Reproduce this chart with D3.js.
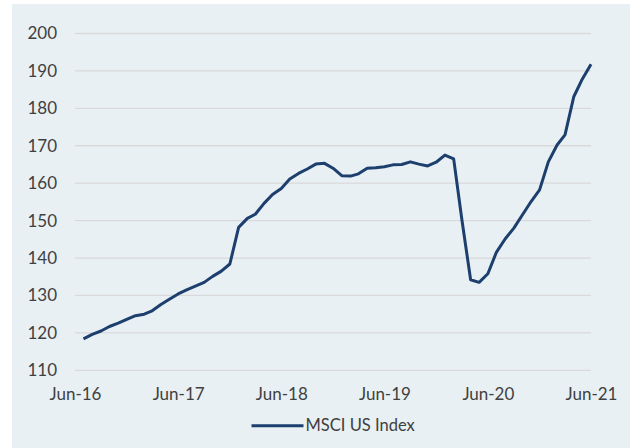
<!DOCTYPE html>
<html>
<head>
<meta charset="utf-8">
<script src="https://cdn.jsdelivr.net/npm/d3@7"></script>
<style>
  html, body { margin: 0; padding: 0; background: #ffffff; }
  svg { display: block; }
  text { font-family: Lato, "Open Sans", sans-serif; fill: #404040; }
</style>
</head>
<body>
<svg id="chart" width="630" height="448"></svg>
<script>
// Monthly index levels, Jul-2016 .. Jun-2021
const seriesName = "MSCI US Index";
const firstMonth = "2016-07";
const values = [
  118.4, 119.6, 120.5, 121.7, 122.6, 123.6, 124.6, 125.0, 125.9, 127.6, 129.0, 130.4,
  131.5, 132.5, 133.5, 135.1, 136.5, 138.4, 148.2, 150.6, 151.7, 154.6, 157.0, 158.6,
  161.1, 162.6, 163.8, 165.1, 165.3, 164.0, 162.0, 161.9, 162.5, 164.0, 164.1, 164.4,
  164.9, 165.0, 165.7, 165.1, 164.6, 165.6, 167.5, 166.5, 150.3, 134.2, 133.5, 135.8,
  141.5, 145.1, 148.0, 151.5, 155.1, 158.2, 165.7, 170.2, 172.9, 183.1, 187.8, 191.8
];
const yTicks = [110, 120, 130, 140, 150, 160, 170, 180, 190, 200];
const xTickLabels = ["Jun-16", "Jun-17", "Jun-18", "Jun-19", "Jun-20", "Jun-21"];

const parseMonth = d3.utcParse("%Y-%m");
const start = parseMonth(firstMonth);
const data = values.map((v, i) => ({ date: d3.utcMonth.offset(start, i), value: v }));
const xTickDates = xTickLabels.map(l => d3.utcParse("%b-%y")(l));

const svg = d3.select("#chart");

// panel background
svg.append("rect")
  .attr("x", 12).attr("y", 4)
  .attr("width", 618).attr("height", 444)
  .attr("fill", "#e8f0f4");

const x = d3.scaleUtc()
  .domain([xTickDates[0], xTickDates[xTickDates.length - 1]])
  .range([75, 591]);
const y = d3.scaleLinear().domain([110, 200]).range([370.3, 33.5]);

// horizontal gridlines
svg.append("g")
  .selectAll("line")
  .data(yTicks)
  .join("line")
  .attr("x1", 75).attr("x2", 591)
  .attr("y1", d => y(d)).attr("y2", d => y(d))
  .attr("stroke", "#d9d9d9")
  .attr("stroke-width", 1.3);

// y axis labels
const yAxis = d3.axisLeft(y).tickValues(yTicks).tickSize(0).tickPadding(0);
svg.append("g")
  .attr("transform", "translate(57,0)")
  .call(yAxis)
  .call(g => g.select(".domain").remove())
  .call(g => g.selectAll("text")
    .style("font-family", "Lato, 'Open Sans', sans-serif")
    .style("font-size", "17px")
    .attr("fill", "#404040"));

// x axis labels
const xAxis = d3.axisBottom(x)
  .tickValues(xTickDates)
  .tickFormat(d3.utcFormat("%b-%y"))
  .tickSize(0).tickPadding(0);
svg.append("g")
  .attr("transform", "translate(0,387.5)")
  .call(xAxis)
  .call(g => g.select(".domain").remove())
  .call(g => g.selectAll("text")
    .style("font-family", "Lato, 'Open Sans', sans-serif")
    .style("font-size", "17px")
    .attr("fill", "#404040"));

// series line
const line = d3.line().x(d => x(d.date)).y(d => y(d.value));
svg.append("path")
  .datum(data)
  .attr("d", line)
  .attr("fill", "none")
  .attr("stroke", "#1c3f6e")
  .attr("stroke-width", 3)
  .attr("stroke-linejoin", "round");

// legend
const legend = svg.append("g").attr("transform", "translate(251.5,425.7)");
legend.append("line")
  .attr("x1", 0).attr("x2", 52)
  .attr("stroke", "#1c3f6e").attr("stroke-width", 3);
legend.append("text")
  .attr("x", 54).attr("dy", "0.35em")
  .style("font-size", "16.5px")
  .text(seriesName);
</script>
</body>
</html>
